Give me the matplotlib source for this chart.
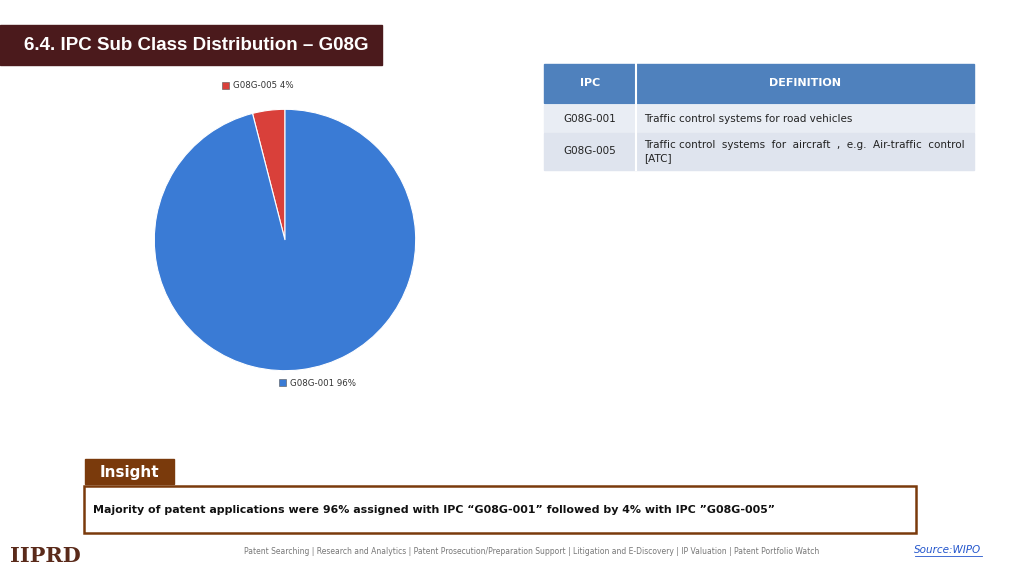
import matplotlib
matplotlib.use("Agg")
import matplotlib.pyplot as plt
from matplotlib.patches import Rectangle

categories = ["G08G-001", "G08G-005"]
values = [96, 4]
colors = ["#3a7bd5", "#d9403a"]
table_rows = [("G08G-001", "Traffic control systems for road vehicles"),
              ("G08G-005", "Traffic control  systems  for  aircraft  ,  e.g.  Air-traffic  control\n[ATC]")]

W, H = 1024, 576
fig = plt.figure(figsize=(W/100, H/100), dpi=100)
bg = fig.add_axes([0, 0, 1, 1])
bg.set_xlim(0, W); bg.set_ylim(H, 0); bg.axis("off")

# title
bg.add_patch(Rectangle((0, 25), 382, 40, color="#4b1a1c"))
bg.text(24, 45, "6.4. IPC Sub Class Distribution – G08G", color="white", fontsize=13.5,
        fontweight="bold", va="center", family="Liberation Sans")

# pie
r = 132; cx, cy = 285, 240
pax = fig.add_axes([(cx-r)/W, 1-(cy+r)/H, 2*r/W, 2*r/H])
pax.pie(values[::-1], colors=colors[::-1], startangle=90, counterclock=True,
        wedgeprops=dict(edgecolor="white", linewidth=0.8))
pax.set_xlim(-1.01, 1.01); pax.set_ylim(-1.01, 1.01)
pax.set_aspect("equal")
# pie labels
bg.add_patch(Rectangle((222, 82), 7, 7, color=colors[1], ec="#555", lw=0.4))
bg.text(233, 86, f"{categories[1]} {values[1]}%", fontsize=6.2, va="center", color="#333")
bg.add_patch(Rectangle((279, 379), 7, 7, color=colors[0], ec="#555", lw=0.4))
bg.text(290, 383, f"{categories[0]} {values[0]}%", fontsize=6.2, va="center", color="#333")

# table
bg.add_patch(Rectangle((544, 64), 430, 39, color="#4f81bd"))
bg.plot([636, 636], [64, 103], color="white", lw=1.5)
bg.text(590, 83, "IPC", color="white", fontsize=8, fontweight="bold", ha="center", va="center")
bg.text(805, 83, "DEFINITION", color="white", fontsize=8, fontweight="bold", ha="center", va="center")
rows_y = [(105, 27), (133, 37)]
fills = ["#e9edf4", "#dfe4ee"]
for (y, h), (code, d), f in zip(rows_y, table_rows, fills):
    bg.add_patch(Rectangle((544, y), 430, h, color=f))
    bg.plot([636, 636], [y, y+h], color="white", lw=1.5)
    bg.text(590, y+h/2, code, fontsize=7.5, ha="center", va="center", color="#222")
    bg.text(644, y+h/2, d, fontsize=7.5, ha="left", va="center", color="#222", linespacing=1.5)

# insight
bg.add_patch(Rectangle((85, 459), 89, 25, color="#7a3a0c"))
bg.text(129, 472, "Insight", color="white", fontsize=11, fontweight="bold", ha="center", va="center")
bg.add_patch(Rectangle((84, 486), 832, 47, fill=False, ec="#7a3a0c", lw=1.8))
bg.text(93, 510, "Majority of patent applications were 96% assigned with IPC “G08G-001” followed by 4% with IPC ”G08G-005”",
        fontsize=7.9, fontweight="bold", va="center", color="#111")

# footer
bg.text(10, 556, "IIPRD", fontsize=15, family="DejaVu Serif", fontweight="bold", color="#5a2a1a", va="center")
bg.text(532, 551, "Patent Searching | Research and Analytics | Patent Prosecution/Preparation Support | Litigation and E-Discovery | IP Valuation | Patent Portfolio Watch",
        fontsize=5.5, color="#777", ha="center", va="center")
bg.text(948, 550, "Source:WIPO", fontsize=7.5, color="#2255cc", style="italic", ha="center", va="center")
bg.plot([915, 982], [556, 556], color="#2255cc", lw=0.6)

fig.savefig("out.png", dpi=100)
